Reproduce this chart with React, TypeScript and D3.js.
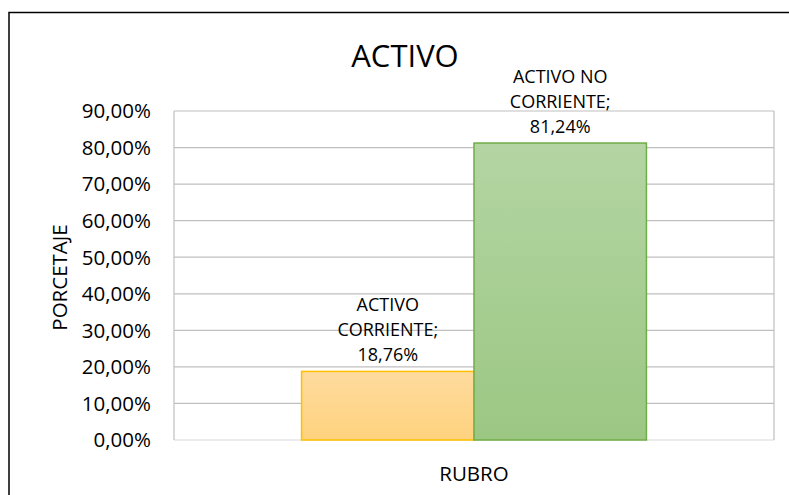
import React from "react";
import * as d3 from "d3";

const title = "ACTIVO";
const categories = ["RUBRO"];
const seriesNames = ["ACTIVO CORRIENTE", "ACTIVO NO CORRIENTE"];
const seriesValues = [0.1876, 0.8124];
const labelLines = [["ACTIVO", "CORRIENTE;", "18,76%"], ["ACTIVO NO", "CORRIENTE;", "81,24%"]];
const yTicks = [0, 0.1, 0.2, 0.3, 0.4, 0.5, 0.6, 0.7, 0.8, 0.9];
const yAxisTitle = "PORCETAJE";
const xAxisTitle = "RUBRO";

const W = 789, H = 495;
const plot = { left: 174, right: 774, top: 111, bottom: 440 };
const FONT = "'Open Sans', 'Noto Sans', sans-serif";

const fills = [
  { top: "#fedb9e", bottom: "#fed27e", stroke: "#ffc000" },
  { top: "#b4d5a3", bottom: "#9bc783", stroke: "#70ad47" },
];

const fmt = (v: number) => (v * 100).toFixed(2).replace(".", ",") + "%";

export default function App() {
  const y = d3.scaleLinear().domain([0, 0.9]).range([plot.bottom, plot.top]);
  const x0 = d3.scaleBand<string>().domain(categories).range([plot.left, plot.right]).padding(0.27);
  const x1 = d3.scaleBand<string>().domain(seriesNames).range([0, x0.bandwidth()]);
  const cx = (plot.left + plot.right) / 2;
  return (
    <div style={{ position: "absolute", left: 0, top: 0 }}>
      <svg width={W} height={H} style={{ display: "block", background: "#fff" }} fontFamily={FONT}>
        <defs>
          {fills.map((f, i) => (
            <linearGradient key={i} id={`g${i}`} x1="0" y1="0" x2="0" y2="1">
              <stop offset="0" stopColor={f.top} />
              <stop offset="1" stopColor={f.bottom} />
            </linearGradient>
          ))}
        </defs>
        <rect x={9} y={12.5} width={900} height={600} fill="#fff" stroke="#000" strokeWidth={1.5} />
        <text x={405} y={67} textAnchor="middle" fontSize={31} fill="#000">{title}</text>
        {yTicks.map((t) => (
          <g key={t}>
            <line x1={plot.left} x2={plot.right} y1={y(t)} y2={y(t)} stroke={t === 0 ? "#d9d9d9" : "#bfbfbf"} strokeWidth={1.2} />
            <text x={151} y={y(t)} dy="0.36em" textAnchor="end" fontSize={20.5} fill="#000">{fmt(t)}</text>
          </g>
        ))}
        <line x1={plot.left} x2={plot.left} y1={plot.top} y2={plot.bottom} stroke="#bfbfbf" strokeWidth={1.2} />
        <line x1={plot.right} x2={plot.right} y1={plot.top} y2={plot.bottom} stroke="#bfbfbf" strokeWidth={1.2} />
        {categories.map((c) =>
          seriesNames.map((s, i) => {
            const bx = (x0(c) ?? 0) + (x1(s) ?? 0);
            const bw = x1.bandwidth();
            const v = seriesValues[i];
            const lines = labelLines[i];
            const lx = bx + bw / 2;
            const lastBase = y(v) - 10;
            return (
              <g key={s}>
                <rect x={bx} y={y(v)} width={bw} height={y(0) - y(v)} fill={`url(#g${i})`} stroke={fills[i].stroke} strokeWidth={1.5} />
                {lines.map((ln, k) => (
                  <text key={k} x={lx} y={lastBase - (lines.length - 1 - k) * 25} textAnchor="middle" fontSize={18} fill="#000">{ln}</text>
                ))}
              </g>
            );
          })
        )}
        <text transform={`translate(67,${(plot.top + plot.bottom) / 2 + 2}) rotate(-90)`} textAnchor="middle" fontSize={20.5} fill="#000">{yAxisTitle}</text>
        <text x={cx} y={481} textAnchor="middle" fontSize={20.5} fill="#000">{xAxisTitle}</text>
      </svg>
    </div>
  );
}
